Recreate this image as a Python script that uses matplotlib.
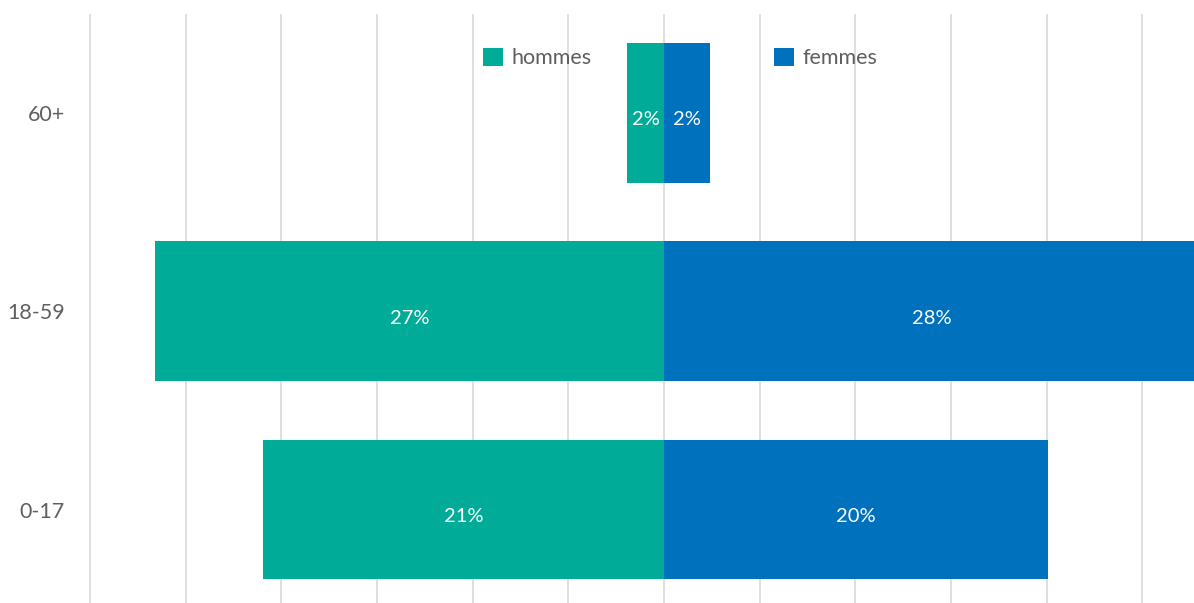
import matplotlib
matplotlib.use("Agg")
import matplotlib.pyplot as plt
from matplotlib.patches import Patch

plt.rcParams['font.family'] = ['Lato', 'DejaVu Sans']

# Age groups, bottom to top
groups = ["0-17", "18-59", "60+"]
hommes = [20.96, 26.6, 1.93]
femmes = [20.07, 28.0, 2.4]
series_names = ["hommes", "femmes"]
grid_ticks = [-30, -25, -20, -15, -10, -5, 0, 5, 10, 15, 20, 25]

teal = "#00AC98"
blue = "#0071BC"
text_grey = "#5f5f5f"

fig = plt.figure(figsize=(11.94, 6.03), dpi=100)
W, H = 1194, 603
ax = fig.add_axes([80 / W, 0, 1 - 80 / W, 1 - 14 / H])

ypos = list(range(len(groups)))
bar_h = 0.705
ax.barh(ypos, [-v for v in hommes], height=bar_h, color=teal, zorder=2)
ax.barh(ypos, femmes, height=bar_h, color=blue, zorder=2)

for y, h, f in zip(ypos, hommes, femmes):
    ax.text(-h / 2, y - 0.035, f"{round(h)}%", ha="center", va="center",
            color="white", fontsize=14.5, zorder=3)
    ax.text(f / 2, y - 0.035, f"{round(f)}%", ha="center", va="center",
            color="white", fontsize=14.5, zorder=3)

scale = 19.13  # pixels per percentage point
ax.set_xlim((80 - 664) / scale, (1194 - 664) / scale)
ax.set_ylim(-0.471, 2.499)

ax.set_xticks(grid_ticks)
ax.xaxis.grid(True, color="#dcdcdc", linewidth=1.3, zorder=0)
ax.tick_params(axis="x", length=0, labelbottom=False)
ax.set_yticks(ypos)
ax.set_yticklabels(groups, fontsize=15.5, color=text_grey)
ax.tick_params(axis="y", length=0, pad=11)
for s in ax.spines.values():
    s.set_visible(False)
ax.set_axisbelow(True)

# Two legend entries placed separately above the bars
for name, col, x0 in [(series_names[0], teal, 479), (series_names[1], blue, 770)]:
    leg = fig.legend(handles=[Patch(facecolor=col, edgecolor="none")],
                     labels=[name], loc="center left",
                     bbox_to_anchor=(x0 / W, 1 - 58 / H),
                     frameon=False, fontsize=15.5, labelcolor=text_grey,
                     handlelength=0.9, handleheight=0.9, handletextpad=0.4,
                     borderaxespad=0, borderpad=0.2)

fig.savefig("out.png", dpi=100)
